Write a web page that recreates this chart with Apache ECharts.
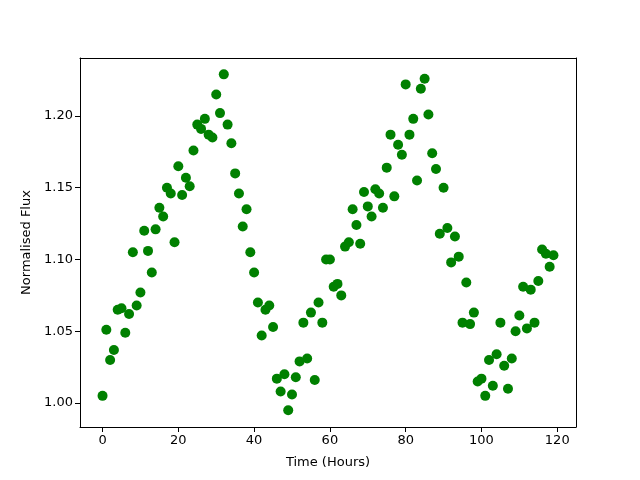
<!DOCTYPE html>
<html>
<head>
<meta charset="utf-8">
<script src="https://cdn.jsdelivr.net/npm/echarts@6/dist/echarts.min.js"></script>
<style>
  html, body { margin: 0; padding: 0; background: #fff; }
  #chart { width: 640px; height: 480px; }
</style>
</head>
<body>
<div id="chart"></div>
<script>
// hours 0..119
const hours = Array.from({ length: 120 }, (_, i) => i)
const flux = [
  1.005, 1.051, 1.030, 1.037, 1.065, 1.066, 1.049, 1.062, 1.105, 1.068,
  1.077, 1.120, 1.106, 1.091, 1.121, 1.136, 1.130, 1.150, 1.146, 1.112,
  1.165, 1.145, 1.157, 1.151, 1.176, 1.194, 1.191, 1.198, 1.187, 1.185,
  1.215, 1.202, 1.229, 1.194, 1.181, 1.160, 1.146, 1.123, 1.135, 1.105,
  1.091, 1.070, 1.047, 1.065, 1.068, 1.053, 1.017, 1.008, 1.020, 0.995,
  1.006, 1.018, 1.029, 1.056, 1.031, 1.063, 1.016, 1.070, 1.056, 1.100,
  1.100, 1.081, 1.083, 1.075, 1.109, 1.112, 1.135, 1.124, 1.111, 1.147,
  1.137, 1.130, 1.149, 1.146, 1.136, 1.164, 1.187, 1.144, 1.180, 1.173,
  1.222, 1.187, 1.198, 1.155, 1.219, 1.226, 1.201, 1.174, 1.163, 1.118,
  1.150, 1.122, 1.098, 1.116, 1.102, 1.056, 1.084, 1.055, 1.063, 1.015,
  1.017, 1.005, 1.030, 1.012, 1.034, 1.056, 1.026, 1.010, 1.031, 1.050,
  1.061, 1.081, 1.052, 1.079, 1.056, 1.085, 1.107, 1.104, 1.095, 1.103,
]
const xTicks = [0, 20, 40, 60, 80, 100, 120]
const yTicks = [1.00, 1.05, 1.10, 1.15, 1.20]

const myChart = echarts.init(document.getElementById('chart'))
const font = 'DejaVu Sans'
const xMin = -5.95
const xMax = 124.95
const yMin = 0.9833
const yMax = 1.2404

// plain axis used only to draw the top / right frame lines
const frameAxis = (min, max, position) => ({
  type: 'value',
  min,
  max,
  position,
  axisLine: { show: true, onZero: false, lineStyle: { color: '#000' } },
  axisTick: { show: false },
  axisLabel: { show: false },
  splitLine: { show: false },
})

const option = {
  animation: false,
  backgroundColor: '#fff',
  grid: {
    left: 80,
    right: 64,
    top: 58,
    bottom: 53,
  },
  xAxis: [
    {
      type: 'value',
      min: xMin,
      max: xMax,
      position: 'bottom',
      name: 'Time (Hours)',
      nameLocation: 'middle',
      nameGap: 29,
      nameTextStyle: { fontFamily: font, fontSize: 13, color: '#000' },
      axisLine: { show: true, onZero: false, lineStyle: { color: '#000' } },
      axisTick: { show: true, inside: false, length: 5, customValues: xTicks, lineStyle: { color: '#000' } },
      axisLabel: { customValues: xTicks, fontFamily: font, fontSize: 13, color: '#000', margin: 7 },
      splitLine: { show: false },
    },
    frameAxis(xMin, xMax, 'top'),
  ],
  yAxis: [
    {
      type: 'value',
      min: yMin,
      max: yMax,
      position: 'left',
      name: 'Normalised Flux',
      nameLocation: 'middle',
      nameGap: 47,
      nameTextStyle: { fontFamily: font, fontSize: 13, color: '#000' },
      axisLine: { show: true, onZero: false, lineStyle: { color: '#000' } },
      axisTick: { show: true, inside: false, length: 5, customValues: yTicks, lineStyle: { color: '#000' } },
      axisLabel: {
        customValues: yTicks,
        fontFamily: font,
        fontSize: 13,
        color: '#000',
        margin: 7,
        formatter: (v) => v.toFixed(2),
      },
      splitLine: { show: false },
    },
    frameAxis(yMin, yMax, 'right'),
  ],
  series: [
    {
      type: 'scatter',
      symbol: 'circle',
      symbolSize: 10,
      itemStyle: { color: '#008000', opacity: 1 },
      data: hours.map((h, i) => [h, flux[i]]),
    },
  ],
}
myChart.setOption(option)
</script>
</body>
</html>
